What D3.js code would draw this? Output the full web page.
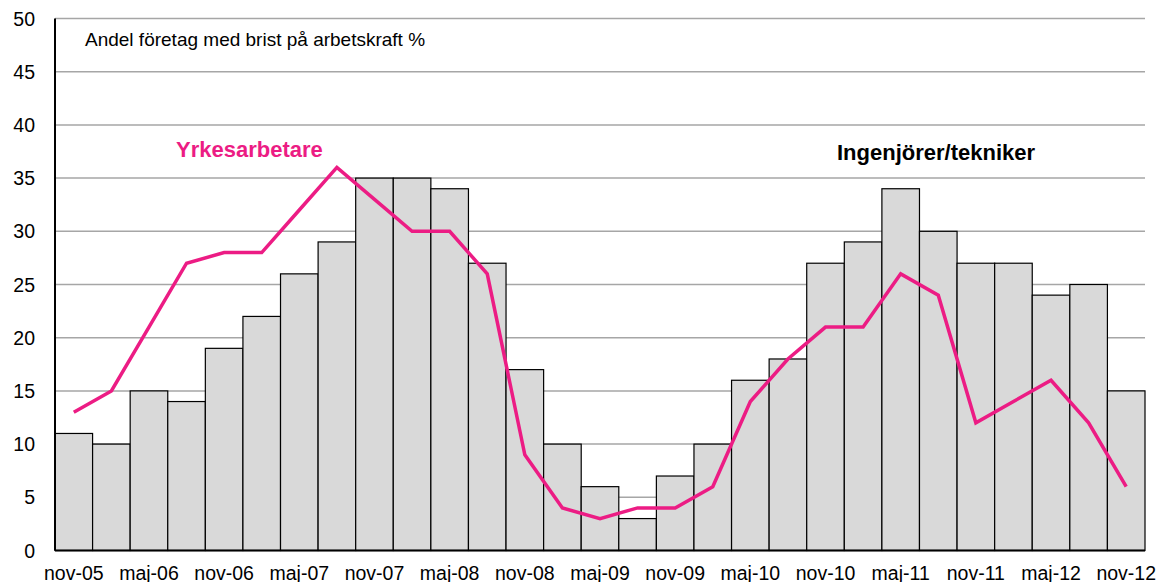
<!DOCTYPE html>
<html>
<head>
<meta charset="utf-8">
<script src="https://cdn.jsdelivr.net/npm/d3@7"></script>
<style>
  body { margin: 0; background: #fff; }
  text { font-family: "Liberation Sans", Arial, sans-serif; }
</style>
</head>
<body>
<div id="vis"></div>
<script>
var periods = ['nov-05','feb-06','maj-06','aug-06','nov-06','feb-07','maj-07','aug-07','nov-07','feb-08','maj-08','aug-08',
    'nov-08','feb-09','maj-09','aug-09','nov-09','feb-10','maj-10','aug-10','nov-10','feb-11','maj-11','aug-11',
    'nov-11','feb-12','maj-12','aug-12','nov-12'];
var ingenjorer = [11,10,15,14,19,22,26,29,35,35,34,27,17,10,6,3,7,10,16,18,27,29,34,30,27,27,24,25,15];
var yrkesarbetare = [13,15,21,27,28,28,32,36,33,30,30,26,9,4,3,4,4,6,14,18,21,21,26,24,12,14,16,12,6];
var yTicks = [0,5,10,15,20,25,30,35,40,45,50];

var margin = {left: 55, right: 12, top: 18.5, bottom: 31.5};
var W = 1157, H = 582;
var width = W - margin.left - margin.right;
var height = H - margin.top - margin.bottom;

var svg = d3.select('#vis').append('svg')
    .attr('width', W).attr('height', H)
  .append('g')
    .attr('transform', 'translate(' + margin.left + ',' + margin.top + ')');

var x = d3.scaleBand().domain(periods).range([0, width]).padding(0);
var y = d3.scaleLinear().domain([0, 50]).range([height, 0]);

// gridlines
svg.append('g')
    .selectAll('line')
    .data(yTicks.filter(d => d > 0))
    .enter().append('line')
        .attr('x1', 0).attr('x2', width)
        .attr('y1', d => y(d)).attr('y2', d => y(d))
        .attr('stroke', '#a6a6a6').attr('stroke-width', 1.5);

// bars
svg.append('g')
    .selectAll('rect')
    .data(ingenjorer)
    .enter().append('rect')
        .attr('x', (d, i) => x(periods[i]))
        .attr('y', d => y(d))
        .attr('width', x.bandwidth())
        .attr('height', d => height - y(d))
        .attr('fill', '#d9d9d9')
        .attr('stroke', '#000').attr('stroke-width', 1.2);

// line
var line = d3.line()
    .x((d, i) => x(periods[i]) + x.bandwidth() / 2)
    .y(d => y(d));
svg.append('path')
    .datum(yrkesarbetare)
    .attr('d', line)
    .attr('fill', 'none')
    .attr('stroke', '#ec1c84')
    .attr('stroke-width', 3.5)
    .attr('stroke-linejoin', 'miter');

// axes
svg.append('line').attr('x1', 0).attr('x2', 0).attr('y1', 0).attr('y2', height)
    .attr('stroke', '#000').attr('stroke-width', 2);
svg.append('line').attr('x1', 0).attr('x2', width).attr('y1', height).attr('y2', height)
    .attr('stroke', '#000').attr('stroke-width', 2);

svg.append('g')
    .selectAll('text')
    .data(yTicks)
    .enter().append('text')
        .attr('x', -20)
        .attr('y', d => y(d) + 7)
        .attr('text-anchor', 'end')
        .attr('font-size', 19.5)
        .text(d => d);

svg.append('g')
    .selectAll('text')
    .data(periods.filter((d, i) => i % 2 === 0))
    .enter().append('text')
        .attr('x', d => x(d) + x.bandwidth() / 2)
        .attr('y', height + 29)
        .attr('text-anchor', 'middle')
        .attr('font-size', 19.5)
        .text(d => d);

// labels
svg.append('text')
    .attr('x', 30).attr('y', 27.5)
    .attr('font-size', 19)
    .text('Andel företag med brist på arbetskraft %');

svg.append('text')
    .attr('x', 121).attr('y', 138.5)
    .attr('font-size', 22).attr('font-weight', 'bold')
    .attr('fill', '#ec1c84')
    .text('Yrkesarbetare');

svg.append('text')
    .attr('x', 782).attr('y', 141.5)
    .attr('font-size', 22).attr('font-weight', 'bold')
    .text('Ingenjörer/tekniker');
</script>
</body>
</html>
